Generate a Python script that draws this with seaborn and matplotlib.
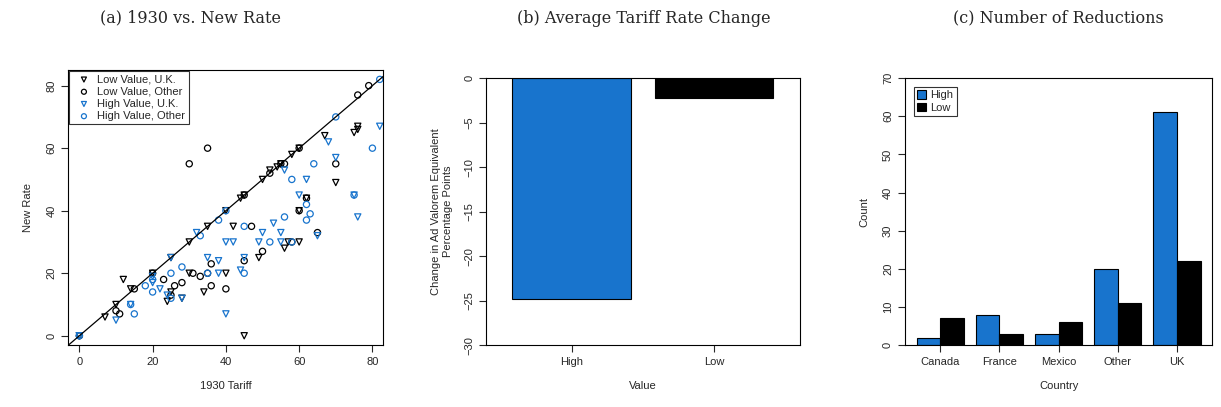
import matplotlib
matplotlib.use("Agg")
import matplotlib.pyplot as plt
import seaborn as sns
import pandas as pd
import numpy as np

sns.set_style("white")
plt.rcParams['font.family'] = ['Liberation Sans', 'DejaVu Sans']

BLUE = "#1874CD"

low_uk_x = [0,7,10,12,14,20,25,25,30,30,35,40,42,45,50,55,58,60,60,57,67,75,76,70,60,62,40,45,24,28,34,49,56,76,52,54,44]
low_uk_y = [0,6,10,18,15,20,25,14,30,20,35,40,35,45,50,55,58,60,30,30,64,65,66,49,40,44,20,0,11,12,14,25,28,67,53,54,44]
low_ot_x = [0,10,11,15,20,23,26,28,30,35,33,36,36,45,47,52,56,60,60,58,65,70,76,79,40,50,45,35,25,31,55,62]
low_ot_y = [0,8,7,15,20,18,16,17,55,60,19,16,23,45,35,52,55,60,40,30,33,55,77,80,15,27,24,20,13,20,55,44]
high_uk_x = [0,10,14,20,22,25,28,32,38,40,40,42,45,49,50,55,56,62,65,68,70,75,76,82,35,38,55,20,24,44,60,53]
high_uk_y = [0,5,10,19,15,25,12,33,24,30,7,30,25,30,33,33,53,50,32,62,57,45,38,67,25,20,30,17,13,21,45,36]
high_ot_x = [0,14,15,18,20,25,33,35,40,45,52,58,58,62,62,64,75,80,82,70,45,25,28,20,63,56,38]
high_ot_y = [0,10,7,16,14,20,32,20,40,35,30,30,50,37,42,55,45,60,82,70,20,12,22,18,39,38,37]

b_cats = ["High", "Low"]
b_vals = [-24.8, -2.2]

c_countries = ["Canada", "France", "Mexico", "Other", "UK"]
c_high = [2, 8, 3, 20, 61]
c_low = [7, 3, 6, 11, 22]

fig = plt.figure(figsize=(12.21, 4.07), dpi=100)
ax1 = fig.add_axes([0.056, 0.152, 0.258, 0.676])
ax2 = fig.add_axes([0.398, 0.152, 0.257, 0.656])
ax3 = fig.add_axes([0.741, 0.152, 0.252, 0.656])

def style(ax):
    for s in ax.spines.values():
        s.set_linewidth(0.8); s.set_color("black")
    ax.tick_params(direction="out", length=5, width=0.8, labelsize=8, left=True, bottom=True)
    for l in ax.get_yticklabels():
        l.set_rotation(90); l.set_va("center")

# Panel a
ax1.plot([-5, 90], [-5, 90], color="black", lw=0.9)
groups = [(low_uk_x, low_uk_y, "v", "black", "Low Value, U.K."),
          (low_ot_x, low_ot_y, "o", "black", "Low Value, Other"),
          (high_uk_x, high_uk_y, "v", BLUE, "High Value, U.K."),
          (high_ot_x, high_ot_y, "o", BLUE, "High Value, Other")]
for x, y, m, c, lab in groups:
    sns.scatterplot(x=x, y=y, ax=ax1, marker=m, facecolor="none", edgecolor=c,
                    linewidth=0.9, s=20, label=lab)
ax1.set_xlim(-3, 83)
ax1.set_ylim(-3, 85)
ax1.set_xticks([0, 20, 40, 60, 80]); ax1.set_yticks([0, 20, 40, 60, 80])
ax1.set_xlabel("1930 Tariff", fontsize=8, labelpad=10)
ax1.set_ylabel("New Rate", fontsize=8, labelpad=10)
leg = ax1.legend(loc="upper left", fontsize=8, frameon=True, fancybox=False,
                 edgecolor="black", borderpad=0.3, handletextpad=0.2, labelspacing=0.2,
                 borderaxespad=0.1, markerscale=0.8)
leg.get_frame().set_linewidth(0.8)
style(ax1)

# Panel b
dfb = pd.DataFrame({"Value": b_cats, "v": b_vals})
sns.barplot(data=dfb, x="Value", y="v", hue="Value", palette=[BLUE, "black"],
            ax=ax2, width=0.83, edgecolor="black", linewidth=0.8, legend=False,
            saturation=1)
ax2.set_ylim(-30, 0)
ax2.set_xlim(-0.6, 1.6)
ax2.set_yticks([-30, -25, -20, -15, -10, -5, 0])
ax2.set_yticklabels(["\u221230", "\u221225", "\u221220", "\u221215", "\u221210", "\u22125", "0"])
ax2.set_xlabel("Value", fontsize=8, labelpad=10)
ax2.set_ylabel("Change in Ad Valorem Equivalent\nPercentage Points", fontsize=8, labelpad=8)
ax2.tick_params(axis="x", length=0)
style(ax2)

# Panel c
dfc = pd.DataFrame({"Country": c_countries * 2, "Count": c_high + c_low,
                    "grp": ["High"] * 5 + ["Low"] * 5})
sns.barplot(data=dfc, x="Country", y="Count", hue="grp", palette=[BLUE, "black"],
            ax=ax3, width=0.8, edgecolor="black", linewidth=0.8, gap=0, saturation=1)
ax3.set_ylim(0, 70)
ax3.set_xlim(-0.6, 4.6)
ax3.set_yticks(range(0, 71, 10))
ax3.set_xlabel("Country", fontsize=8, labelpad=10)
ax3.set_ylabel("Count", fontsize=8, labelpad=10)
ax3.tick_params(axis="x", length=0)
leg3 = ax3.legend(loc="upper left", fontsize=8, frameon=True, fancybox=False,
                  edgecolor="black", borderpad=0.3, handletextpad=0.4, labelspacing=0.2,
                  borderaxespad=0.8, handlelength=0.8, handleheight=0.8, title=None)
leg3.get_frame().set_linewidth(0.8)
style(ax3)

for xpos, t in [(0.156, "(a) 1930 vs. New Rate"), (0.527, "(b) Average Tariff Rate Change"),
                (0.867, "(c) Number of Reductions")]:
    fig.text(xpos, 0.955, t, ha="center", va="center", fontsize=11.5, family="DejaVu Serif")

fig.savefig("out.png", dpi=100)
